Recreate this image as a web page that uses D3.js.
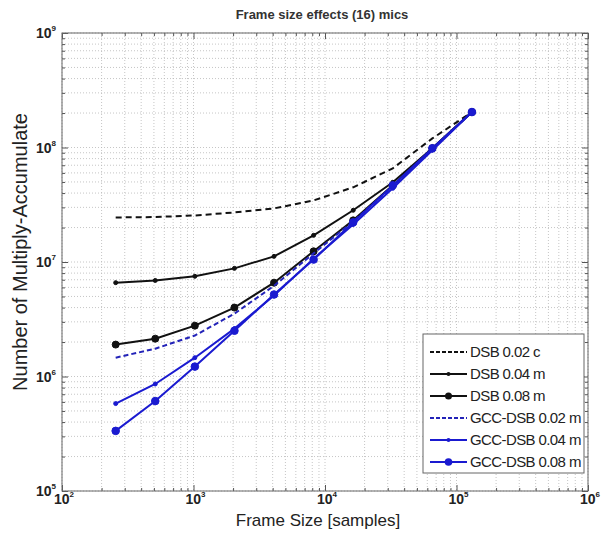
<!DOCTYPE html>
<html>
<head>
<meta charset="utf-8">
<script src="https://cdn.jsdelivr.net/npm/d3@7"></script>
<style>
  body { margin: 0; background: #fff; }
  text { font-family: "Liberation Sans", Arial, sans-serif; }
</style>
</head>
<body>
<svg id="chart" width="609" height="533"></svg>
<script>
// frame sizes (samples)
var frames = [256, 512, 1024, 2048, 4096, 8192, 16384, 32768, 65536, 131072];

// multiply-accumulate counts
var dsb002 = [2.45e7, 2.47e7, 2.55e7, 2.71e7, 2.94e7, 3.45e7, 4.49e7, 6.58e7, 1.20e8, 2.04e8];
var dsb004 = [6.6e6, 6.9e6, 7.5e6, 8.8e6, 1.12e7, 1.71e7, 2.83e7, 4.97e7, 9.85e7, 2.04e8];
var dsb008 = [1.90e6, 2.14e6, 2.78e6, 4.0e6, 6.6e6, 1.24e7, 2.31e7, 4.67e7, 9.85e7, 2.04e8];
var gcc002 = [1.46e6, 1.75e6, 2.28e6, 3.54e6, 6.2e6, 1.19e7, 2.26e7, 4.6e7, 9.7e7, 2.04e8];
var gcc004 = [5.8e5, 8.6e5, 1.46e6, 2.62e6, 5.1e6, 1.07e7, 2.13e7, 4.4e7, 9.46e7, 2.04e8];
var gcc008 = [3.35e5, 6.1e5, 1.22e6, 2.51e6, 5.2e6, 1.05e7, 2.22e7, 4.67e7, 9.85e7, 2.04e8];

var seriesNames = ["DSB 0.02 c", "DSB 0.04 m", "DSB 0.08 m", "GCC-DSB 0.02 m", "GCC-DSB 0.04 m", "GCC-DSB 0.08 m"];
var seriesValues = [dsb002, dsb004, dsb008, gcc002, gcc004, gcc008];

var xDecades = [1e2, 1e3, 1e4, 1e5, 1e6];
var yDecades = [1e5, 1e6, 1e7, 1e8, 1e9];

var styles = [
  { color: "#111", dash: "6,4", marker: 0 },
  { color: "#111", dash: null, marker: 2 },
  { color: "#111", dash: null, marker: 3.5 },
  { color: "#2323b8", dash: "5,3", marker: 0 },
  { color: "#1a1ad0", dash: null, marker: 2 },
  { color: "#1a1ad0", dash: null, marker: 3.8 }
];

var svg = d3.select("#chart");
var pl = 62, pr = 588, pt = 33, pb = 491;

var x = d3.scaleLog().domain([1e2, 1e6]).range([pl, pr]);
var y = d3.scaleLog().domain([1e5, 1e9]).range([pb, pt]);

// minor values inside each decade
function minors(decs) {
  var out = [];
  for (var i = 0; i < decs.length - 1; i++)
    for (var k = 2; k < 10; k++) out.push(decs[i] * k);
  return out;
}
var xMinor = minors(xDecades), yMinor = minors(yDecades);

// grid
var grid = svg.append("g").attr("stroke", "#b8b8b8").attr("stroke-width", 0.8).attr("stroke-dasharray", "1,2");
grid.selectAll(".gx").data(xDecades.concat(xMinor)).enter().append("line")
  .attr("x1", d => x(d)).attr("x2", d => x(d)).attr("y1", pt).attr("y2", pb);
grid.selectAll(".gy").data(yDecades.concat(yMinor)).enter().append("line")
  .attr("y1", d => y(d)).attr("y2", d => y(d)).attr("x1", pl).attr("x2", pr);

// axes with inward ticks on all four sides
function tickAxis(axis, tr) {
  svg.append("g").attr("transform", tr).call(axis)
    .call(g => g.select(".domain").remove())
    .call(g => g.selectAll("line").attr("stroke", "#555"));
}
tickAxis(d3.axisBottom(x).tickValues(xDecades).tickSize(-6).tickFormat(""), "translate(0," + pb + ")");
tickAxis(d3.axisBottom(x).tickValues(xMinor).tickSize(-3).tickFormat(""), "translate(0," + pb + ")");
tickAxis(d3.axisTop(x).tickValues(xDecades).tickSize(-6).tickFormat(""), "translate(0," + pt + ")");
tickAxis(d3.axisTop(x).tickValues(xMinor).tickSize(-3).tickFormat(""), "translate(0," + pt + ")");
tickAxis(d3.axisLeft(y).tickValues(yDecades).tickSize(-6).tickFormat(""), "translate(" + pl + ",0)");
tickAxis(d3.axisLeft(y).tickValues(yMinor).tickSize(-3).tickFormat(""), "translate(" + pl + ",0)");
tickAxis(d3.axisRight(y).tickValues(yDecades).tickSize(-6).tickFormat(""), "translate(" + pr + ",0)");
tickAxis(d3.axisRight(y).tickValues(yMinor).tickSize(-3).tickFormat(""), "translate(" + pr + ",0)");

svg.append("rect").attr("x", pl).attr("y", pt).attr("width", pr - pl).attr("height", pb - pt)
  .attr("fill", "none").attr("stroke", "#666").attr("stroke-width", 1);

// tick labels 10^n
function powLabel(g, v) {
  var t = g.append("text").attr("fill", "#222").attr("font-size", 14).attr("font-weight", "bold");
  t.append("tspan").text("10");
  t.append("tspan").attr("font-size", 8).attr("dy", -7).text(Math.round(Math.log10(v)));
  return t;
}
xDecades.forEach(function (v) {
  powLabel(svg, v).attr("x", x(v) - 8).attr("y", pb + 13);
});
yDecades.forEach(function (v) {
  powLabel(svg, v).attr("x", pl - 26).attr("y", y(v) + 5);
});

// lines
var line = d3.line().x((d, i) => x(frames[i])).y(d => y(d));
seriesValues.forEach(function (vals, s) {
  var st = styles[s];
  svg.append("path").datum(vals).attr("d", line)
    .attr("fill", "none").attr("stroke", st.color).attr("stroke-width", 2)
    .attr("stroke-dasharray", st.dash);
  if (st.marker) {
    svg.append("g").selectAll("circle").data(vals).enter().append("circle")
      .attr("cx", (d, i) => x(frames[i])).attr("cy", d => y(d))
      .attr("r", st.marker).attr("fill", st.color).attr("stroke", st.color);
  }
});

// legend
var lg = svg.append("g").attr("transform", "translate(423,334)");
lg.append("rect").attr("width", 161).attr("height", 139).attr("fill", "#fff").attr("stroke", "#666");
seriesNames.forEach(function (name, i) {
  var st = styles[i], ly = 18 + i * 22;
  lg.append("line").attr("x1", 7).attr("x2", 44).attr("y1", ly).attr("y2", ly)
    .attr("stroke", st.color).attr("stroke-width", 2).attr("stroke-dasharray", st.dash ? "4,2" : null);
  if (st.marker) lg.append("circle").attr("cx", 25.5).attr("cy", ly).attr("r", st.marker).attr("fill", st.color);
  lg.append("text").attr("x", 47).attr("y", ly + 5).attr("font-size", 15).attr("letter-spacing", -0.6)
    .attr("fill", "#222").text(name);
});

// titles
svg.append("text").attr("x", 322).attr("y", 19).attr("text-anchor", "middle")
  .attr("font-size", 13).attr("font-weight", "bold").attr("fill", "#333").text("Frame size effects (16) mics");
svg.append("text").attr("x", 318).attr("y", 526).attr("text-anchor", "middle")
  .attr("font-size", 17).attr("fill", "#222").text("Frame Size [samples]");
svg.append("text").attr("transform", "translate(27,252) rotate(-90)").attr("text-anchor", "middle")
  .attr("font-size", 20).attr("fill", "#222").text("Number of Multiply-Accumulate");
</script>
</body>
</html>
